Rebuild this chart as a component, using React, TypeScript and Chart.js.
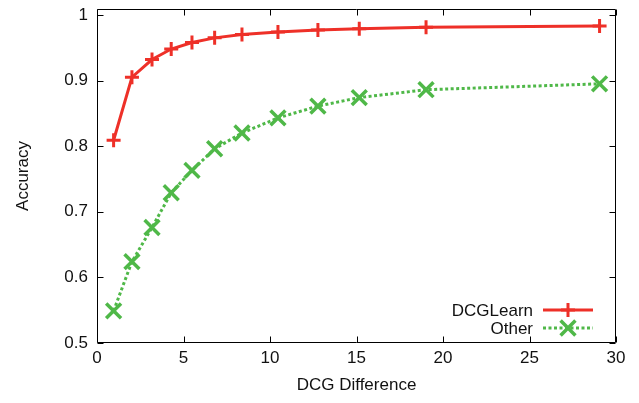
import React, { useEffect, useRef } from "react";
import { Chart, registerables } from "chart.js";

Chart.register(...registerables);

const xValues = [0.96, 2.02, 3.18, 4.29, 5.49, 6.8, 8.38, 10.46, 12.77, 15.16, 19.02, 29.05];
const dcgLearn = [0.809, 0.905, 0.932, 0.948, 0.958, 0.965, 0.97, 0.974, 0.977, 0.979, 0.981, 0.983];
const other = [0.549, 0.624, 0.676, 0.729, 0.763, 0.796, 0.82, 0.843, 0.861, 0.874, 0.886, 0.895];
const xTicks = [0, 5, 10, 15, 20, 25, 30];
const yTicks = [0.5, 0.6, 0.7, 0.8, 0.9, 1];
const seriesNames = ["DCGLearn", "Other"];

const RED = "#ee3028";
const GREEN = "#4fb848";
const FONT = "'Liberation Sans', Arial, Helvetica, sans-serif";
const FS = 17;

const frameAndLegend = {
  id: "frameAndLegend",
  afterDraw(chart: any) {
    const ctx = chart.ctx;
    const a = chart.chartArea;
    const L = Math.round(a.left) + 0.5;
    const R = Math.round(a.right) - 0.5;
    const T = Math.round(a.top) + 0.5;
    const B = Math.round(a.bottom) - 0.5;
    ctx.save();
    ctx.strokeStyle = "#000";
    ctx.lineWidth = 1;
    ctx.setLineDash([]);
    ctx.beginPath();
    ctx.rect(L, T, R - L, B - T);
    const tl = 6;
    const xs = chart.scales.x;
    xs.ticks.forEach((t: any) => {
      const px = Math.round(xs.getPixelForValue(t.value)) + 0.5;
      ctx.moveTo(px, B);
      ctx.lineTo(px, B - tl);
      ctx.moveTo(px, T);
      ctx.lineTo(px, T + tl);
    });
    const ys = chart.scales.y;
    ys.ticks.forEach((t: any) => {
      const py = Math.round(ys.getPixelForValue(t.value)) + 0.5;
      ctx.moveTo(L, py);
      ctx.lineTo(L + tl, py);
      ctx.moveTo(R, py);
      ctx.lineTo(R - tl, py);
    });
    ctx.stroke();

    // legend (gnuplot style: text right-aligned, sample on the right)
    const textRight = a.right - 83;
    const x0 = a.right - 73;
    const x1 = a.right - 23;
    const rows = [a.bottom - 33, a.bottom - 15];
    ctx.font = FS + "px " + FONT;
    ctx.textAlign = "right";
    ctx.textBaseline = "middle";
    chart.data.datasets.forEach((ds: any, i: number) => {
      const y = rows[i];
      ctx.fillStyle = "#111";
      ctx.fillText(ds.label, textRight, y + 1);
      ctx.strokeStyle = ds.borderColor;
      ctx.lineWidth = ds.borderWidth;
      ctx.setLineDash(ds.borderDash || []);
      ctx.beginPath();
      ctx.moveTo(x0, y);
      ctx.lineTo(x1, y);
      ctx.stroke();
      ctx.setLineDash([]);
      const cx = (x0 + x1) / 2;
      ctx.lineWidth = ds.pointBorderWidth;
      ctx.beginPath();
      const r = ds.pointRadius;
      if (ds.pointStyle === "cross") {
        ctx.moveTo(cx - r, y);
        ctx.lineTo(cx + r, y);
        ctx.moveTo(cx, y - r);
        ctx.lineTo(cx, y + r);
      } else {
        const d = r * Math.SQRT1_2;
        ctx.moveTo(cx - d, y - d);
        ctx.lineTo(cx + d, y + d);
        ctx.moveTo(cx + d, y - d);
        ctx.lineTo(cx - d, y + d);
      }
      ctx.stroke();
    });
    ctx.restore();
  },
};

export default function App() {
  const ref = useRef<HTMLCanvasElement | null>(null);
  useEffect(() => {
    document.body.style.margin = "0";
    if (!ref.current) return;
    const chart = new Chart(ref.current, {
      type: "line",
      data: {
        datasets: [
          {
            label: seriesNames[0],
            data: xValues.map((x, i) => ({ x, y: dcgLearn[i] })),
            borderColor: RED,
            backgroundColor: RED,
            borderWidth: 3,
            pointStyle: "cross",
            pointRadius: 7,
            pointBorderWidth: 3,
            pointBorderColor: RED,
            tension: 0,
          },
          {
            label: seriesNames[1],
            data: xValues.map((x, i) => ({ x, y: other[i] })),
            borderColor: GREEN,
            backgroundColor: GREEN,
            borderWidth: 3,
            borderDash: [3, 2.5],
            pointStyle: "crossRot",
            pointRadius: 10.5,
            pointBorderWidth: 3.5,
            pointBorderColor: GREEN,
            tension: 0,
          },
        ],
      },
      options: {
        responsive: false,
        animation: false,
        devicePixelRatio: 1,
        layout: { autoPadding: false, padding: { left: 0, right: 23, top: 9, bottom: 0 } },
        plugins: { legend: { display: false }, tooltip: { enabled: false } },
        scales: {
          x: {
            type: "linear",
            min: 0,
            max: 30,
            afterBuildTicks: (s: any) => {
              s.ticks = xTicks.map((v) => ({ value: v }));
            },
            afterFit: (s: any) => {
              s.height = 60;
              s.paddingLeft = 0;
              s.paddingRight = 0;
            },
            grid: { display: false, drawTicks: false },
            border: { display: false },
            ticks: {
              padding: 5,
              color: "#111",
              font: { family: FONT, size: FS },
              callback: (v: any) => String(v),
            },
            title: {
              display: true,
              text: "DCG Difference",
              color: "#111",
              font: { family: FONT, size: FS },
              padding: { top: 0, bottom: 7 },
            },
          },
          y: {
            type: "linear",
            min: 0.5,
            max: 1.009,
            afterBuildTicks: (s: any) => {
              s.ticks = yTicks.map((v) => ({ value: v }));
            },
            afterFit: (s: any) => {
              s.width = 97;
              s.paddingTop = 0;
              s.paddingBottom = 0;
            },
            grid: { display: false, drawTicks: false },
            border: { display: false },
            ticks: {
              padding: 9,
              color: "#111",
              font: { family: FONT, size: FS, lineHeight: 0.5 },
              callback: (v: any) => String(v),
            },
            title: {
              display: true,
              text: "Accuracy",
              color: "#111",
              font: { family: FONT, size: FS },
              padding: { top: 13, bottom: 0 },
            },
          },
        },
      },
      plugins: [frameAndLegend],
    });
    return () => chart.destroy();
  }, []);
  return <canvas ref={ref} width={639} height={403} style={{ display: "block" }} />;
}
